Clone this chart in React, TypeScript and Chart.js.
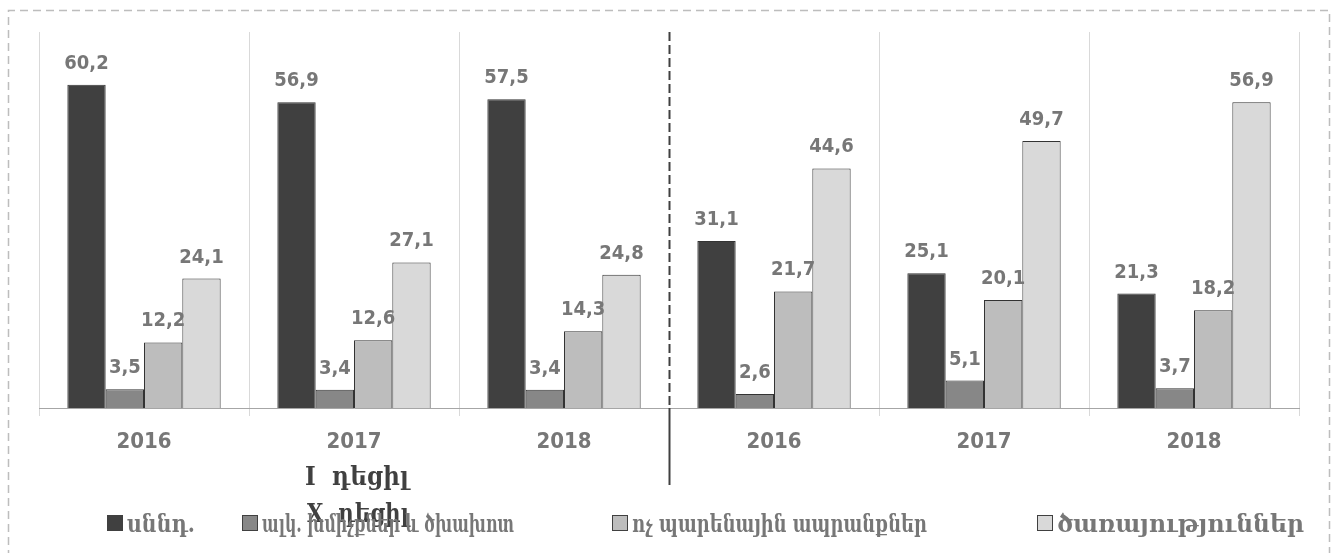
import React, { useEffect, useRef } from "react";
import { Chart, registerables } from "chart.js";

Chart.register(...registerables);

const categories = ["2016", "2017", "2018", "2016", "2017", "2018"];
const seriesNames = ["սննդ.", "ալկ. խմիչքներ և ծխախոտ", "ոչ պարենային ապրանքներ", "ծառայություններ"];
const food = [60.2, 56.9, 57.5, 31.1, 25.1, 21.3];
const alcoholTobacco = [3.5, 3.4, 3.4, 2.6, 5.1, 3.7];
const nonFood = [12.2, 12.6, 14.3, 21.7, 20.1, 18.2];
const services = [24.1, 27.1, 24.8, 44.6, 49.7, 56.9];
const seriesColors = ["#404040", "#878787", "#bdbdbd", "#d9d9d9"];
const groupLabels = ["I  դեցիլ", "X  դեցիլ"];

const W = 1337;
const H = 553;
const LABEL_GRAY = "#777777";
const NUM_FONT = "bold 20px 'DejaVu Sans Condensed', 'DejaVu Sans', sans-serif";
const ARM_FONT = "bold 25px 'DejaVu Serif', serif";

const decorPlugin = {
  id: "decor",
  afterDraw(chart: any) {
    const ctx = chart.ctx;
    const area = chart.chartArea;
    ctx.save();

    // dashed outer frame
    ctx.strokeStyle = "#bdbdbd";
    ctx.lineWidth = 1.5;
    ctx.setLineDash([8, 5]);
    ctx.beginPath();
    ctx.moveTo(8.5, H + 5);
    ctx.lineTo(8.5, 10.5);
    ctx.lineTo(1329.5, 10.5);
    ctx.lineTo(1329.5, H + 5);
    ctx.stroke();

    // center divider
    const xs = chart.scales.x;
    const midX = Math.round((xs.getPixelForValue(2) + xs.getPixelForValue(3)) / 2) + 0.5;
    ctx.strokeStyle = "#404040";
    ctx.lineWidth = 2;
    ctx.setLineDash([9, 4]);
    ctx.beginPath();
    ctx.moveTo(midX, area.top);
    ctx.lineTo(midX, area.bottom);
    ctx.stroke();
    ctx.setLineDash([]);
    ctx.beginPath();
    ctx.moveTo(midX, area.bottom);
    ctx.lineTo(midX, 485);
    ctx.stroke();

    // data labels
    ctx.font = NUM_FONT;
    ctx.fillStyle = LABEL_GRAY;
    ctx.textAlign = "center";
    ctx.textBaseline = "alphabetic";
    chart.data.datasets.forEach((ds: any, di: number) => {
      const meta = chart.getDatasetMeta(di);
      meta.data.forEach((bar: any, i: number) => {
        const txt = String(ds.data[i].toFixed(1)).replace(".", ",");
        ctx.fillText(txt, bar.x, bar.y - 16);
      });
    });

    // group labels
    ctx.font = "bold 26px 'DejaVu Serif', serif";
    ctx.fillStyle = "#404040";
    ctx.textAlign = "left";
    ctx.fillText(groupLabels[0], 305, 485, 104);
    ctx.fillText(groupLabels[1], 307, 522, 102);

    // legend
    const boxX = [107, 242, 612, 1037];
    const textW = [68, 252, 295, 247];
    ctx.font = ARM_FONT;
    chart.data.datasets.forEach((ds: any, di: number) => {
      const x = boxX[di];
      ctx.fillStyle = ds.backgroundColor;
      ctx.fillRect(x, 515, 16, 16);
      ctx.strokeStyle = "#404040";
      ctx.lineWidth = 1;
      ctx.strokeRect(x + 0.5, 515.5, 15, 15);
      ctx.fillStyle = LABEL_GRAY;
      ctx.fillText(ds.label, x + 20, 532, textW[di]);
    });

    ctx.restore();
  },
};

export default function App() {
  const ref = useRef<HTMLCanvasElement | null>(null);

  useEffect(() => {
    if (!ref.current) return;
    const values = [food, alcoholTobacco, nonFood, services];
    const chart = new Chart(ref.current, {
      type: "bar",
      data: {
        labels: categories,
        datasets: values.map((v, i) => ({
          label: seriesNames[i],
          data: v,
          backgroundColor: seriesColors[i],
          borderColor: "#333333",
          borderWidth: 1,
          categoryPercentage: 0.73,
          barPercentage: 1,
        })),
      },
      options: {
        responsive: false,
        animation: false,
        devicePixelRatio: 1,
        layout: { padding: { left: 39, right: 38, top: 32, bottom: 0 } },
        plugins: {
          legend: { display: false },
          tooltip: { enabled: false },
          title: { display: false },
        },
        scales: {
          y: { display: false, min: 0, max: 70 },
          x: {
            afterFit: (s: any) => {
              s.height = H - 408;
            },
            grid: {
              offset: true,
              color: (c: any) => (c.index === 3 ? "rgba(0,0,0,0)" : "#d9d9d9"),
              lineWidth: 1,
              tickLength: 8,
            },
            border: { color: "#a6a6a6", width: 1 },
            ticks: {
              color: LABEL_GRAY,
              padding: 13,
              font: { family: "'DejaVu Sans Condensed', 'DejaVu Sans', sans-serif", size: 22, weight: "bold" },
            },
          },
        },
      },
      plugins: [decorPlugin],
    });
    return () => chart.destroy();
  }, []);

  return (
    <div style={{ position: "fixed", left: 0, top: 0, width: W, height: H, background: "#ffffff" }}>
      <canvas ref={ref} width={W} height={H} style={{ display: "block", width: W, height: H }} />
    </div>
  );
}
